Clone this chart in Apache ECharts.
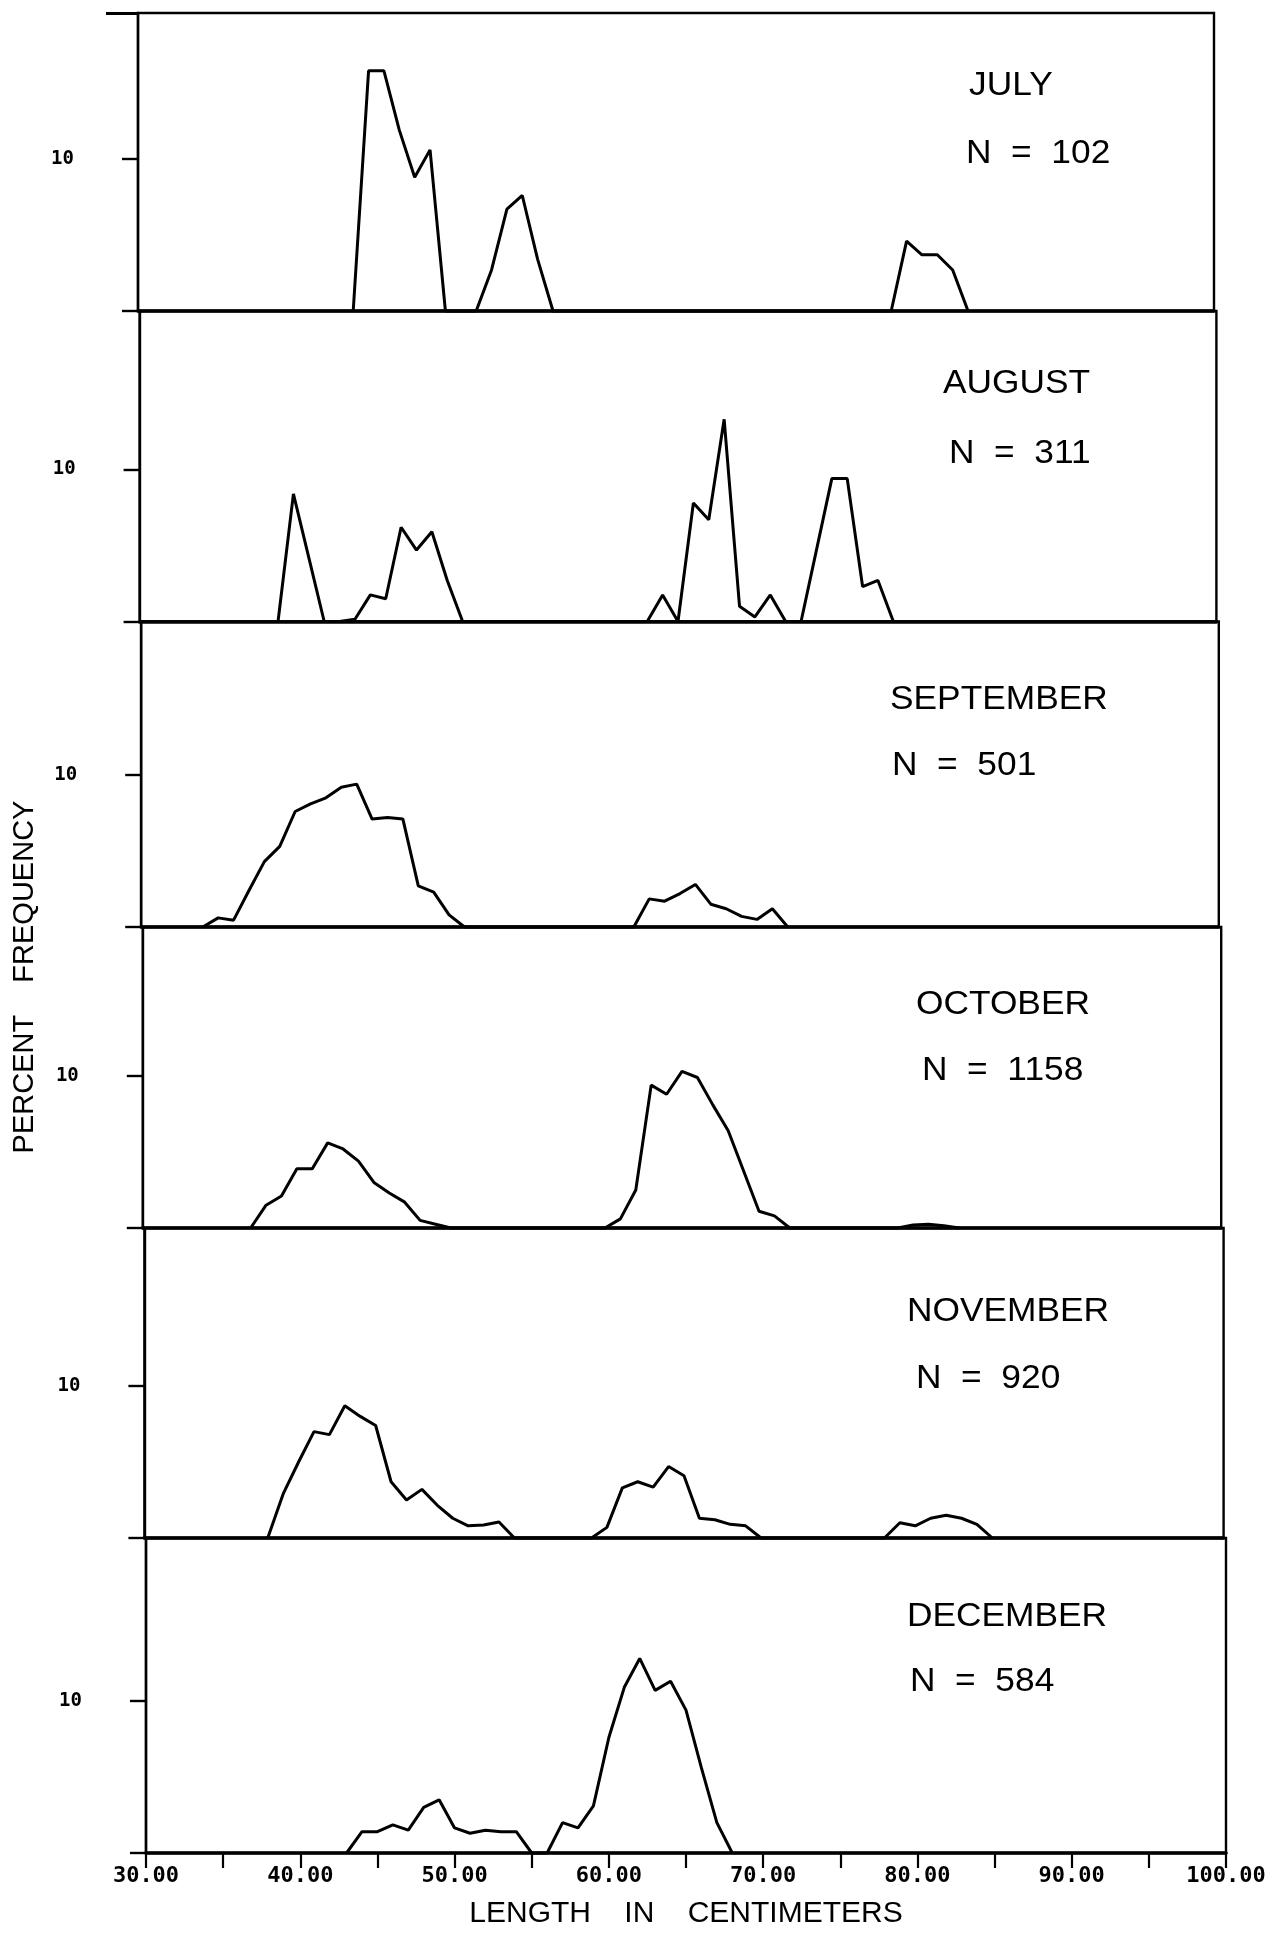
<!DOCTYPE html>
<html>
<head>
<meta charset="utf-8">
<script src="https://cdn.jsdelivr.net/npm/echarts@6.0.0/dist/echarts.min.js"></script>
<style>
  html, body { margin: 0; padding: 0; background: #ffffff; }
  #chart { width: 1277px; height: 1933px; }
</style>
</head>
<body>
<div id="chart"></div>
<script>
// Monthly length-frequency polygons: [length (cm), percent frequency]
const MONTHS = ['JULY', 'AUGUST', 'SEPTEMBER', 'OCTOBER', 'NOVEMBER', 'DECEMBER'];
const SAMPLE_SIZES = [102, 311, 501, 1158, 920, 584];

const july = [[44,0],[45,15.8],[46,15.8],[47,11.9],[48,8.8],[49,10.6],[50,0],
  [52,0],[53,2.7],[54,6.7],[55,7.6],[56,3.4],[57,0],
  [79,0],[80,4.6],[81,3.7],[82,3.7],[83,2.7],[84,0]];

const august = [[39,0],[40,8.4],[41,4.2],[42,0],[43,0],[44,0.15],[45,1.75],[46,1.5],
  [47,6.2],[48,4.7],[49,5.9],[50,2.7],[51,0],
  [63,0],[64,1.75],[65,0],[66,7.8],[67,6.7],[68,13.3],[69,1.0],[70,0.3],[71,1.75],[72,0],
  [73,0],[74,4.7],[75,9.4],[76,9.4],[77,2.3],[78,2.7],[79,0]];

const september = [[34,0],[35,0.6],[36,0.45],[37,2.4],[38,4.3],[39,5.3],[40,7.6],[41,8.1],
  [42,8.5],[43,9.2],[44,9.4],[45,7.1],[46,7.2],[47,7.1],[48,2.7],[49,2.3],[50,0.8],[51,0],
  [62,0],[63,1.85],[64,1.7],[65,2.2],[66,2.8],[67,1.5],[68,1.2],[69,0.7],[70,0.5],[71,1.2],[72,0]];

const october = [[37,0],[38,1.5],[39,2.1],[40,3.9],[41,3.9],[42,5.6],[43,5.2],[44,4.4],
  [45,3.0],[46,2.3],[47,1.7],[48,0.5],[49,0.25],[50,0],
  [60,0],[61,0.6],[62,2.5],[63,9.4],[64,8.8],[65,10.3],[66,9.9],[67,8.1],[68,6.4],
  [69,3.75],[70,1.1],[71,0.8],[72,0],
  [79,0],[80,0.2],[81,0.25],[82,0.15],[83,0]];

const november = [[38,0],[39,2.9],[40,5.0],[41,7.0],[42,6.8],[43,8.7],[44,8.0],[45,7.4],
  [46,3.7],[47,2.5],[48,3.2],[49,2.15],[50,1.3],[51,0.8],[52,0.85],[53,1.05],[54,0],
  [59,0],[60,0.7],[61,3.3],[62,3.7],[63,3.35],[64,4.7],[65,4.1],[66,1.3],[67,1.2],[68,0.9],[69,0.8],[70,0],
  [78,0],[79,1.0],[80,0.8],[81,1.3],[82,1.5],[83,1.3],[84,0.9],[85,0]];

const december = [[43,0],[44,1.4],[45,1.4],[46,1.85],[47,1.5],[48,3.0],[49,3.5],[50,1.65],
  [51,1.3],[52,1.5],[53,1.4],[54,1.4],[55,0],[56,0],[57,2.0],[58,1.65],[59,3.1],[60,7.6],
  [61,10.9],[62,12.8],[63,10.7],[64,11.3],[65,9.4],[66,5.6],[67,2.0],[68,0]];

const MONTH_DATA = [july, august, september, october, november, december];
const X_RANGE = [30, 100];
const Y_LABEL_VALUES = [10];

// Page layout (pixels); the plotted frame leans slightly, so each panel sits a bit further right
const PANEL_EDGES = [13, 311, 621.5, 927, 1228, 1538, 1853];
const PX_PER_PCT = 15.2;
const LEFT_TOP = 138, LEFT_STEP = 1.6;
const RIGHT_TOP = 1214, RIGHT_STEP = 2.4;
const TITLE_POS = [[969, 86], [943, 384], [890, 700], [916, 1005], [907, 1312], [907, 1617]];
const N_POS = [[966, 154], [949, 454], [892, 766], [922, 1071], [916, 1379], [910, 1682]];

const NUM_FONT = '"DejaVu Sans Mono", monospace';
const TEXT_FONT = '"Liberation Sans", Arial, sans-serif';
const INK = '#000000';

const grids = [], xAxes = [], yAxes = [], series = [], graphics = [];
const last = MONTHS.length - 1;

function label(text, pos, size) {
  return {
    type: 'text',
    x: pos[0],
    y: pos[1],
    scaleX: 1.07,
    style: {
      text: text,
      fill: INK,
      fontFamily: TEXT_FONT,
      fontSize: size,
      align: 'left', verticalAlign: 'middle',
      textAlign: 'left', textVerticalAlign: 'middle'
    }
  };
}

MONTHS.forEach((month, i) => {
  const h = PANEL_EDGES[i + 1] - PANEL_EDGES[i];
  const yMax = h / PX_PER_PCT;
  const left = LEFT_TOP + LEFT_STEP * i;
  const right = RIGHT_TOP + RIGHT_STEP * i;
  const isLast = i === last;

  grids.push({
    left: left,
    top: PANEL_EDGES[i],
    width: right - left,
    height: h,
    show: true,
    backgroundColor: 'transparent',
    borderColor: INK,
    borderWidth: 2.4
  });

  xAxes.push({
    type: 'value',
    gridIndex: i,
    min: X_RANGE[0],
    max: X_RANGE[1],
    interval: 10,
    axisLine: { show: true, onZero: false, lineStyle: { color: INK, width: 3.6 } },
    splitLine: { show: false },
    axisTick: { show: isLast, length: 15, lineStyle: { color: INK, width: 2.2 } },
    minorTick: { show: isLast, splitNumber: 2, length: 15, lineStyle: { color: INK, width: 2.2 } },
    axisLabel: {
      show: isLast,
      margin: 12,
      color: INK,
      fontFamily: NUM_FONT,
      fontWeight: 'bold',
      fontSize: 22,
      formatter: v => v.toFixed(2)
    },
    name: isLast ? 'LENGTH    IN    CENTIMETERS' : '',
    nameLocation: 'middle',
    nameGap: 46,
    nameTextStyle: { color: INK, fontFamily: TEXT_FONT, fontSize: 30 }
  });

  yAxes.push({
    type: 'value',
    gridIndex: i,
    min: 0,
    max: yMax,
    axisLine: { show: true, lineStyle: { color: INK, width: 2.4 } },
    splitLine: { show: false },
    axisTick: {
      show: true,
      customValues: [0, 10],
      length: 16,
      lineStyle: { color: INK, width: 2.4 }
    },
    axisLabel: {
      customValues: Y_LABEL_VALUES,
      margin: 64,
      color: INK,
      fontFamily: NUM_FONT,
      fontWeight: 'bold',
      fontSize: 19
    }
  });

  series.push({
    name: month,
    type: 'line',
    xAxisIndex: i,
    yAxisIndex: i,
    data: MONTH_DATA[i],
    symbol: 'none',
    showSymbol: false,
    clip: false,
    lineStyle: { color: INK, width: 3 },
    z: 3
  });

  graphics.push(label(month, TITLE_POS[i], 33));
  graphics.push(label('N  =  ' + SAMPLE_SIZES[i], N_POS[i], 33));
});

// the top edge of the frame runs a little past the left axis
const topMax = (PANEL_EDGES[1] - PANEL_EDGES[0]) / PX_PER_PCT;
yAxes.push({
  type: 'value',
  gridIndex: 0,
  position: 'left',
  min: 0,
  max: topMax,
  axisLine: { show: false },
  splitLine: { show: false },
  axisLabel: { show: false },
  axisTick: { show: true, customValues: [topMax], length: 32, lineStyle: { color: INK, width: 3 } }
});

// vertical axis title shared by all panels
graphics.push({
  type: 'text',
  x: 25,
  y: 977,
  rotation: Math.PI / 2,
  style: {
    text: 'PERCENT    FREQUENCY',
    fill: INK,
    fontFamily: TEXT_FONT,
    fontSize: 29,
    align: 'center', verticalAlign: 'middle',
    textAlign: 'center', textVerticalAlign: 'middle'
  }
});

const chart = echarts.init(document.getElementById('chart'), null, { renderer: 'canvas' });
chart.setOption({
  animation: false,
  backgroundColor: '#ffffff',
  grid: grids,
  xAxis: xAxes,
  yAxis: yAxes,
  series: series,
  graphic: graphics
});
</script>
</body>
</html>
